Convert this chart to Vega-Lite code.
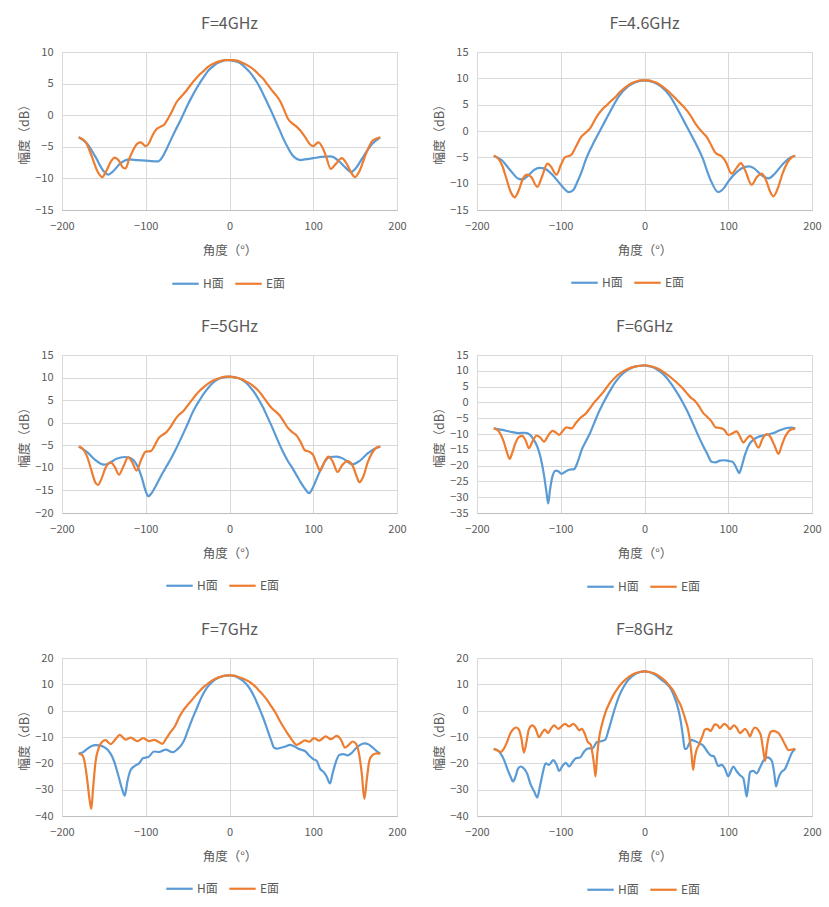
{
  "$schema": "https://vega.github.io/schema/vega-lite/v6.json",
  "background": "white",
  "padding": {"left": 18, "top": 15, "right": 5, "bottom": 5},
  "config": {
    "font": "Noto Sans CJK SC",
    "view": {"stroke": "#d9d9d9", "strokeWidth": 1},
    "axis": {"grid": true, "gridColor": "#d9d9d9", "domain": false, "ticks": false, "labelColor": "#595959", "labelFontSize": 11, "labelFlush": false, "titleColor": "#595959", "titleFontSize": 12.5, "titleFontWeight": "normal"},
    "axisX": {"labelPadding": 10, "titlePadding": 13, "domain": true, "domainColor": "#bfbfbf"},
    "axisY": {"labelPadding": 9, "titlePadding": 3},
    "title": {"fontSize": 16, "fontWeight": "normal", "color": "#595959", "offset": 14},
    "legend": {"orient": "none", "direction": "horizontal", "symbolType": "stroke", "symbolSize": 700, "symbolStrokeWidth": 2.5, "labelFontSize": 12, "labelColor": "#595959", "columnPadding": 6, "labelOffset": 3},
    "line": {"strokeWidth": 2.2, "interpolate": "monotone"}
  },
  "datasets": {
    "f4": [
      {"s":"H面","a":-180,"v":-3.5},{"s":"H面","a":-170,"v":-4.5},{"s":"H面","a":-160,"v":-6.6},{"s":"H面","a":-150,"v":-8.9},{"s":"H面","a":-145,"v":-9.4},{"s":"H面","a":-140,"v":-9.0},{"s":"H面","a":-130,"v":-7.6},{"s":"H面","a":-120,"v":-7.0},{"s":"H面","a":-110,"v":-7.1},{"s":"H面","a":-100,"v":-7.2},{"s":"H面","a":-90,"v":-7.3},{"s":"H面","a":-85,"v":-7.3},{"s":"H面","a":-80,"v":-6.6},{"s":"H面","a":-75,"v":-5.3},{"s":"H面","a":-70,"v":-3.9},{"s":"H面","a":-65,"v":-2.5},{"s":"H面","a":-60,"v":-1.2},{"s":"H面","a":-55,"v":0.2},{"s":"H面","a":-50,"v":1.6},{"s":"H面","a":-45,"v":2.9},{"s":"H面","a":-40,"v":4.1},{"s":"H面","a":-35,"v":5.2},{"s":"H面","a":-30,"v":6.2},{"s":"H面","a":-25,"v":7.1},{"s":"H面","a":-20,"v":7.7},{"s":"H面","a":-15,"v":8.2},{"s":"H面","a":-10,"v":8.5},{"s":"H面","a":-5,"v":8.7},{"s":"H面","a":0,"v":8.7},{"s":"H面","a":5,"v":8.6},{"s":"H面","a":10,"v":8.4},{"s":"H面","a":15,"v":8.0},{"s":"H面","a":20,"v":7.4},{"s":"H面","a":25,"v":6.7},{"s":"H面","a":30,"v":5.8},{"s":"H面","a":35,"v":4.7},{"s":"H面","a":40,"v":3.4},{"s":"H面","a":45,"v":2.0},{"s":"H面","a":50,"v":0.6},{"s":"H面","a":55,"v":-0.9},{"s":"H面","a":60,"v":-2.4},{"s":"H面","a":65,"v":-3.9},{"s":"H面","a":70,"v":-5.2},{"s":"H面","a":75,"v":-6.3},{"s":"H面","a":80,"v":-6.9},{"s":"H面","a":85,"v":-7.1},{"s":"H面","a":90,"v":-7.0},{"s":"H面","a":100,"v":-6.8},{"s":"H面","a":110,"v":-6.6},{"s":"H面","a":120,"v":-6.5},{"s":"H面","a":125,"v":-6.7},{"s":"H面","a":130,"v":-7.2},{"s":"H面","a":140,"v":-8.5},{"s":"H面","a":145,"v":-9.0},{"s":"H面","a":150,"v":-8.5},{"s":"H面","a":160,"v":-6.5},{"s":"H面","a":170,"v":-4.6},{"s":"H面","a":180,"v":-3.5},
      {"s":"E面","a":-180,"v":-3.5},{"s":"E面","a":-172,"v":-4.2},{"s":"E面","a":-165,"v":-6.3},{"s":"E面","a":-158,"v":-8.8},{"s":"E面","a":-152,"v":-9.8},{"s":"E面","a":-147,"v":-8.8},{"s":"E面","a":-141,"v":-7.2},{"s":"E面","a":-137,"v":-6.7},{"s":"E面","a":-132,"v":-7.2},{"s":"E面","a":-127,"v":-8.3},{"s":"E面","a":-124,"v":-8.4},{"s":"E面","a":-120,"v":-7.0},{"s":"E面","a":-115,"v":-5.5},{"s":"E面","a":-110,"v":-4.5},{"s":"E面","a":-106,"v":-4.3},{"s":"E面","a":-100,"v":-4.9},{"s":"E面","a":-96,"v":-4.4},{"s":"E面","a":-92,"v":-3.2},{"s":"E面","a":-87,"v":-2.2},{"s":"E面","a":-82,"v":-1.8},{"s":"E面","a":-78,"v":-1.5},{"s":"E面","a":-72,"v":-0.2},{"s":"E面","a":-68,"v":0.8},{"s":"E面","a":-64,"v":1.9},{"s":"E面","a":-60,"v":2.6},{"s":"E面","a":-56,"v":3.2},{"s":"E面","a":-52,"v":3.8},{"s":"E面","a":-48,"v":4.5},{"s":"E面","a":-44,"v":5.2},{"s":"E面","a":-40,"v":5.8},{"s":"E面","a":-36,"v":6.4},{"s":"E面","a":-30,"v":7.1},{"s":"E面","a":-26,"v":7.6},{"s":"E面","a":-20,"v":8.1},{"s":"E面","a":-15,"v":8.4},{"s":"E面","a":-10,"v":8.6},{"s":"E面","a":-5,"v":8.7},{"s":"E面","a":0,"v":8.7},{"s":"E面","a":5,"v":8.7},{"s":"E面","a":10,"v":8.6},{"s":"E面","a":15,"v":8.3},{"s":"E面","a":20,"v":8.0},{"s":"E面","a":25,"v":7.6},{"s":"E面","a":30,"v":7.1},{"s":"E面","a":36,"v":6.3},{"s":"E面","a":40,"v":5.8},{"s":"E面","a":44,"v":5.1},{"s":"E面","a":48,"v":4.4},{"s":"E面","a":52,"v":3.7},{"s":"E面","a":56,"v":3.1},{"s":"E面","a":61,"v":2.1},{"s":"E面","a":65,"v":0.9},{"s":"E面","a":70,"v":-0.6},{"s":"E面","a":75,"v":-1.3},{"s":"E面","a":80,"v":-1.8},{"s":"E面","a":85,"v":-2.5},{"s":"E面","a":90,"v":-3.4},{"s":"E面","a":96,"v":-4.6},{"s":"E面","a":100,"v":-4.9},{"s":"E面","a":106,"v":-4.3},{"s":"E面","a":111,"v":-5.1},{"s":"E面","a":115,"v":-6.4},{"s":"E面","a":121,"v":-8.5},{"s":"E面","a":127,"v":-7.7},{"s":"E面","a":134,"v":-6.8},{"s":"E面","a":140,"v":-7.7},{"s":"E面","a":145,"v":-9.0},{"s":"E面","a":150,"v":-9.8},{"s":"E面","a":155,"v":-8.9},{"s":"E面","a":163,"v":-6.1},{"s":"E面","a":171,"v":-4.0},{"s":"E面","a":180,"v":-3.5}
    ],
    "f46": [
      {"s":"H面","a":-180,"v":-4.7},{"s":"H面","a":-170,"v":-5.6},{"s":"H面","a":-160,"v":-7.5},{"s":"H面","a":-150,"v":-9.1},{"s":"H面","a":-145,"v":-9.2},{"s":"H面","a":-140,"v":-8.6},{"s":"H面","a":-130,"v":-7.2},{"s":"H面","a":-125,"v":-7.0},{"s":"H面","a":-120,"v":-7.1},{"s":"H面","a":-110,"v":-8.3},{"s":"H面","a":-100,"v":-10.2},{"s":"H面","a":-90,"v":-11.6},{"s":"H面","a":-85,"v":-11.2},{"s":"H面","a":-80,"v":-9.6},{"s":"H面","a":-75,"v":-7.7},{"s":"H面","a":-70,"v":-5.4},{"s":"H面","a":-60,"v":-2.0},{"s":"H面","a":-50,"v":1.0},{"s":"H面","a":-40,"v":4.0},{"s":"H面","a":-30,"v":6.7},{"s":"H面","a":-20,"v":8.4},{"s":"H面","a":-10,"v":9.3},{"s":"H面","a":0,"v":9.6},{"s":"H面","a":10,"v":9.3},{"s":"H面","a":20,"v":8.4},{"s":"H面","a":30,"v":6.7},{"s":"H面","a":40,"v":4.0},{"s":"H面","a":50,"v":1.0},{"s":"H面","a":60,"v":-2.0},{"s":"H面","a":70,"v":-5.4},{"s":"H面","a":75,"v":-7.7},{"s":"H面","a":80,"v":-9.7},{"s":"H面","a":88,"v":-11.6},{"s":"H面","a":95,"v":-10.8},{"s":"H面","a":100,"v":-9.6},{"s":"H面","a":110,"v":-7.8},{"s":"H面","a":120,"v":-6.8},{"s":"H面","a":125,"v":-6.7},{"s":"H面","a":130,"v":-7.0},{"s":"H面","a":140,"v":-8.4},{"s":"H面","a":148,"v":-9.0},{"s":"H面","a":155,"v":-8.2},{"s":"H面","a":165,"v":-6.3},{"s":"H面","a":175,"v":-5.0},{"s":"H面","a":180,"v":-4.7},
      {"s":"E面","a":-180,"v":-4.7},{"s":"E面","a":-175,"v":-5.2},{"s":"E面","a":-170,"v":-6.5},{"s":"E面","a":-165,"v":-9.0},{"s":"E面","a":-160,"v":-11.5},{"s":"E面","a":-155,"v":-12.6},{"s":"E面","a":-150,"v":-11.2},{"s":"E面","a":-145,"v":-9.0},{"s":"E面","a":-140,"v":-8.3},{"s":"E面","a":-135,"v":-8.8},{"s":"E面","a":-128,"v":-10.6},{"s":"E面","a":-122,"v":-8.5},{"s":"E面","a":-116,"v":-6.2},{"s":"E面","a":-112,"v":-6.7},{"s":"E面","a":-105,"v":-8.3},{"s":"E面","a":-100,"v":-6.5},{"s":"E面","a":-95,"v":-5.0},{"s":"E面","a":-88,"v":-4.6},{"s":"E面","a":-82,"v":-3.0},{"s":"E面","a":-76,"v":-1.2},{"s":"E面","a":-70,"v":-0.3},{"s":"E面","a":-65,"v":0.5},{"s":"E面","a":-60,"v":1.9},{"s":"E面","a":-55,"v":3.2},{"s":"E面","a":-50,"v":4.2},{"s":"E面","a":-45,"v":4.9},{"s":"E面","a":-40,"v":5.7},{"s":"E面","a":-35,"v":6.4},{"s":"E面","a":-30,"v":7.3},{"s":"E面","a":-25,"v":8.0},{"s":"E面","a":-20,"v":8.6},{"s":"E面","a":-15,"v":9.1},{"s":"E面","a":-10,"v":9.4},{"s":"E面","a":-5,"v":9.6},{"s":"E面","a":0,"v":9.6},{"s":"E面","a":5,"v":9.6},{"s":"E面","a":10,"v":9.4},{"s":"E面","a":15,"v":9.1},{"s":"E面","a":20,"v":8.6},{"s":"E面","a":25,"v":8.0},{"s":"E面","a":30,"v":7.3},{"s":"E面","a":35,"v":6.5},{"s":"E面","a":40,"v":5.7},{"s":"E面","a":45,"v":4.9},{"s":"E面","a":50,"v":4.0},{"s":"E面","a":55,"v":2.9},{"s":"E面","a":60,"v":1.6},{"s":"E面","a":65,"v":0.5},{"s":"E面","a":70,"v":-0.4},{"s":"E面","a":75,"v":-1.3},{"s":"E面","a":80,"v":-2.8},{"s":"E面","a":85,"v":-4.2},{"s":"E面","a":92,"v":-4.8},{"s":"E面","a":97,"v":-5.8},{"s":"E面","a":104,"v":-8.1},{"s":"E面","a":110,"v":-7.0},{"s":"E面","a":115,"v":-6.1},{"s":"E面","a":120,"v":-7.4},{"s":"E面","a":128,"v":-10.2},{"s":"E面","a":134,"v":-8.8},{"s":"E面","a":140,"v":-8.1},{"s":"E面","a":145,"v":-9.3},{"s":"E面","a":150,"v":-11.5},{"s":"E面","a":154,"v":-12.4},{"s":"E面","a":160,"v":-10.5},{"s":"E面","a":165,"v":-8.0},{"s":"E面","a":170,"v":-6.2},{"s":"E面","a":175,"v":-5.1},{"s":"E面","a":180,"v":-4.7}
    ],
    "f5": [
      {"s":"H面","a":-180,"v":-5.3},{"s":"H面","a":-170,"v":-6.5},{"s":"H面","a":-160,"v":-8.3},{"s":"H面","a":-150,"v":-9.3},{"s":"H面","a":-145,"v":-9.1},{"s":"H面","a":-135,"v":-8.0},{"s":"H面","a":-125,"v":-7.6},{"s":"H面","a":-120,"v":-7.7},{"s":"H面","a":-110,"v":-9.6},{"s":"H面","a":-105,"v":-12.0},{"s":"H面","a":-100,"v":-15.2},{"s":"H面","a":-97,"v":-16.3},{"s":"H面","a":-93,"v":-15.6},{"s":"H面","a":-88,"v":-14.0},{"s":"H面","a":-80,"v":-11.2},{"s":"H面","a":-75,"v":-9.6},{"s":"H面","a":-70,"v":-8.0},{"s":"H面","a":-65,"v":-6.2},{"s":"H面","a":-60,"v":-4.3},{"s":"H面","a":-55,"v":-2.3},{"s":"H面","a":-50,"v":-0.3},{"s":"H面","a":-45,"v":1.9},{"s":"H面","a":-40,"v":3.7},{"s":"H面","a":-35,"v":5.2},{"s":"H面","a":-30,"v":6.6},{"s":"H面","a":-25,"v":7.8},{"s":"H面","a":-20,"v":8.8},{"s":"H面","a":-15,"v":9.5},{"s":"H面","a":-10,"v":9.9},{"s":"H面","a":-5,"v":10.1},{"s":"H面","a":0,"v":10.2},{"s":"H面","a":5,"v":10.1},{"s":"H面","a":10,"v":9.9},{"s":"H面","a":15,"v":9.5},{"s":"H面","a":20,"v":8.8},{"s":"H面","a":25,"v":7.8},{"s":"H面","a":30,"v":6.6},{"s":"H面","a":35,"v":5.1},{"s":"H面","a":40,"v":3.4},{"s":"H面","a":45,"v":1.4},{"s":"H面","a":50,"v":-0.6},{"s":"H面","a":55,"v":-2.8},{"s":"H面","a":60,"v":-4.9},{"s":"H面","a":65,"v":-6.9},{"s":"H面","a":70,"v":-8.6},{"s":"H面","a":75,"v":-10.0},{"s":"H面","a":80,"v":-11.6},{"s":"H面","a":85,"v":-13.2},{"s":"H面","a":90,"v":-14.6},{"s":"H面","a":95,"v":-15.6},{"s":"H面","a":100,"v":-14.2},{"s":"H面","a":105,"v":-12.0},{"s":"H面","a":110,"v":-10.0},{"s":"H面","a":115,"v":-8.3},{"s":"H面","a":120,"v":-7.6},{"s":"H面","a":128,"v":-7.5},{"s":"H面","a":135,"v":-7.9},{"s":"H面","a":140,"v":-8.5},{"s":"H面","a":147,"v":-9.2},{"s":"H面","a":155,"v":-8.5},{"s":"H面","a":165,"v":-6.8},{"s":"H面","a":175,"v":-5.6},{"s":"H面","a":180,"v":-5.3},
      {"s":"E面","a":-180,"v":-5.3},{"s":"E面","a":-175,"v":-5.8},{"s":"E面","a":-170,"v":-7.5},{"s":"E面","a":-165,"v":-10.5},{"s":"E面","a":-160,"v":-13.3},{"s":"E面","a":-157,"v":-13.8},{"s":"E面","a":-153,"v":-12.5},{"s":"E面","a":-148,"v":-10.0},{"s":"E面","a":-142,"v":-8.8},{"s":"E面","a":-137,"v":-9.8},{"s":"E面","a":-132,"v":-11.5},{"s":"E面","a":-127,"v":-9.8},{"s":"E面","a":-121,"v":-7.7},{"s":"E面","a":-116,"v":-8.8},{"s":"E面","a":-111,"v":-10.6},{"s":"E面","a":-105,"v":-8.0},{"s":"E面","a":-100,"v":-6.4},{"s":"E面","a":-94,"v":-6.3},{"s":"E面","a":-90,"v":-5.3},{"s":"E面","a":-85,"v":-3.5},{"s":"E面","a":-80,"v":-2.7},{"s":"E面","a":-76,"v":-2.2},{"s":"E面","a":-70,"v":-0.8},{"s":"E面","a":-65,"v":0.7},{"s":"E面","a":-60,"v":1.8},{"s":"E面","a":-55,"v":2.6},{"s":"E面","a":-50,"v":3.8},{"s":"E面","a":-45,"v":5.0},{"s":"E面","a":-40,"v":6.2},{"s":"E面","a":-35,"v":7.2},{"s":"E面","a":-30,"v":8.0},{"s":"E面","a":-25,"v":8.7},{"s":"E面","a":-20,"v":9.3},{"s":"E面","a":-15,"v":9.7},{"s":"E面","a":-10,"v":10.0},{"s":"E面","a":-5,"v":10.2},{"s":"E面","a":0,"v":10.2},{"s":"E面","a":5,"v":10.1},{"s":"E面","a":10,"v":9.9},{"s":"E面","a":15,"v":9.6},{"s":"E面","a":20,"v":9.1},{"s":"E面","a":25,"v":8.6},{"s":"E面","a":30,"v":7.9},{"s":"E面","a":35,"v":7.0},{"s":"E面","a":40,"v":5.8},{"s":"E面","a":45,"v":4.5},{"s":"E面","a":50,"v":3.3},{"s":"E面","a":55,"v":2.5},{"s":"E面","a":60,"v":1.6},{"s":"E面","a":65,"v":0.2},{"s":"E面","a":70,"v":-1.2},{"s":"E面","a":75,"v":-2.1},{"s":"E面","a":80,"v":-2.8},{"s":"E面","a":85,"v":-4.3},{"s":"E面","a":90,"v":-6.1},{"s":"E面","a":95,"v":-6.4},{"s":"E面","a":100,"v":-7.2},{"s":"E面","a":105,"v":-9.5},{"s":"E面","a":108,"v":-10.6},{"s":"E面","a":113,"v":-8.8},{"s":"E面","a":118,"v":-7.5},{"s":"E面","a":123,"v":-8.5},{"s":"E面","a":129,"v":-10.9},{"s":"E面","a":135,"v":-9.3},{"s":"E面","a":141,"v":-8.5},{"s":"E面","a":147,"v":-9.5},{"s":"E面","a":152,"v":-12.0},{"s":"E面","a":155,"v":-13.2},{"s":"E面","a":160,"v":-11.8},{"s":"E面","a":165,"v":-8.8},{"s":"E面","a":170,"v":-6.8},{"s":"E面","a":175,"v":-5.6},{"s":"E面","a":180,"v":-5.3}
    ],
    "f6": [
      {"s":"H面","a":-180,"v":-8.2},{"s":"H面","a":-170,"v":-8.7},{"s":"H面","a":-160,"v":-9.3},{"s":"H面","a":-150,"v":-9.7},{"s":"H面","a":-143,"v":-9.6},{"s":"H面","a":-138,"v":-10.0},{"s":"H面","a":-133,"v":-11.5},{"s":"H面","a":-128,"v":-14.0},{"s":"H面","a":-124,"v":-17.5},{"s":"H面","a":-120,"v":-23.0},{"s":"H面","a":-117,"v":-28.5},{"s":"H面","a":-115,"v":-32.0},{"s":"H面","a":-113,"v":-28.0},{"s":"H面","a":-110,"v":-23.5},{"s":"H面","a":-106,"v":-21.6},{"s":"H面","a":-103,"v":-21.8},{"s":"H面","a":-99,"v":-22.6},{"s":"H面","a":-95,"v":-22.0},{"s":"H面","a":-90,"v":-21.3},{"s":"H面","a":-84,"v":-21.1},{"s":"H面","a":-80,"v":-19.0},{"s":"H面","a":-75,"v":-15.0},{"s":"H面","a":-70,"v":-12.3},{"s":"H面","a":-65,"v":-9.7},{"s":"H面","a":-60,"v":-6.5},{"s":"H面","a":-55,"v":-3.3},{"s":"H面","a":-50,"v":-0.6},{"s":"H面","a":-45,"v":1.9},{"s":"H面","a":-40,"v":4.2},{"s":"H面","a":-35,"v":6.3},{"s":"H面","a":-30,"v":8.0},{"s":"H面","a":-25,"v":9.3},{"s":"H面","a":-20,"v":10.3},{"s":"H面","a":-15,"v":11.0},{"s":"H面","a":-10,"v":11.4},{"s":"H面","a":-5,"v":11.6},{"s":"H面","a":0,"v":11.7},{"s":"H面","a":5,"v":11.5},{"s":"H面","a":10,"v":11.1},{"s":"H面","a":15,"v":10.4},{"s":"H面","a":20,"v":9.5},{"s":"H面","a":25,"v":8.2},{"s":"H面","a":30,"v":6.6},{"s":"H面","a":35,"v":4.7},{"s":"H面","a":40,"v":2.6},{"s":"H面","a":45,"v":0.3},{"s":"H面","a":50,"v":-2.2},{"s":"H面","a":55,"v":-5.0},{"s":"H面","a":60,"v":-8.0},{"s":"H面","a":65,"v":-11.0},{"s":"H面","a":70,"v":-13.8},{"s":"H面","a":75,"v":-16.3},{"s":"H面","a":80,"v":-18.8},{"s":"H面","a":85,"v":-19.0},{"s":"H面","a":90,"v":-18.4},{"s":"H面","a":95,"v":-18.3},{"s":"H面","a":100,"v":-18.5},{"s":"H面","a":105,"v":-18.8},{"s":"H面","a":108,"v":-19.8},{"s":"H面","a":111,"v":-21.5},{"s":"H面","a":113,"v":-22.4},{"s":"H面","a":116,"v":-20.3},{"s":"H面","a":120,"v":-16.5},{"s":"H面","a":125,"v":-13.3},{"s":"H面","a":130,"v":-11.8},{"s":"H面","a":135,"v":-11.0},{"s":"H面","a":140,"v":-10.6},{"s":"H面","a":150,"v":-10.0},{"s":"H面","a":155,"v":-9.6},{"s":"H面","a":160,"v":-9.0},{"s":"H面","a":165,"v":-8.5},{"s":"H面","a":170,"v":-8.1},{"s":"H面","a":175,"v":-8.0},{"s":"H面","a":180,"v":-8.2},
      {"s":"E面","a":-180,"v":-8.2},{"s":"E面","a":-176,"v":-8.6},{"s":"E面","a":-172,"v":-10.0},{"s":"E面","a":-168,"v":-12.5},{"s":"E面","a":-164,"v":-16.0},{"s":"E面","a":-161,"v":-17.9},{"s":"E面","a":-158,"v":-16.0},{"s":"E面","a":-154,"v":-12.8},{"s":"E面","a":-150,"v":-11.0},{"s":"E面","a":-146,"v":-10.6},{"s":"E面","a":-142,"v":-12.0},{"s":"E面","a":-138,"v":-14.5},{"s":"E面","a":-134,"v":-12.5},{"s":"E面","a":-129,"v":-10.5},{"s":"E面","a":-125,"v":-11.0},{"s":"E面","a":-120,"v":-12.4},{"s":"E面","a":-115,"v":-10.5},{"s":"E面","a":-110,"v":-9.0},{"s":"E面","a":-106,"v":-9.5},{"s":"E面","a":-102,"v":-10.3},{"s":"E面","a":-97,"v":-8.8},{"s":"E面","a":-93,"v":-7.9},{"s":"E面","a":-87,"v":-8.2},{"s":"E面","a":-82,"v":-6.5},{"s":"E面","a":-77,"v":-5.0},{"s":"E面","a":-70,"v":-3.5},{"s":"E面","a":-65,"v":-1.8},{"s":"E面","a":-60,"v":0.0},{"s":"E面","a":-55,"v":1.5},{"s":"E面","a":-50,"v":3.0},{"s":"E面","a":-45,"v":4.8},{"s":"E面","a":-40,"v":6.5},{"s":"E面","a":-35,"v":7.9},{"s":"E面","a":-30,"v":9.0},{"s":"E面","a":-25,"v":9.9},{"s":"E面","a":-20,"v":10.6},{"s":"E面","a":-15,"v":11.1},{"s":"E面","a":-10,"v":11.4},{"s":"E面","a":-5,"v":11.6},{"s":"E面","a":0,"v":11.7},{"s":"E面","a":5,"v":11.6},{"s":"E面","a":10,"v":11.3},{"s":"E面","a":15,"v":10.8},{"s":"E面","a":20,"v":10.1},{"s":"E面","a":25,"v":9.2},{"s":"E面","a":30,"v":8.2},{"s":"E面","a":35,"v":7.1},{"s":"E面","a":40,"v":5.9},{"s":"E面","a":45,"v":4.6},{"s":"E面","a":50,"v":3.1},{"s":"E面","a":55,"v":1.6},{"s":"E面","a":60,"v":0.5},{"s":"E面","a":65,"v":-1.2},{"s":"E面","a":70,"v":-3.3},{"s":"E面","a":75,"v":-4.6},{"s":"E面","a":80,"v":-6.0},{"s":"E面","a":85,"v":-7.9},{"s":"E面","a":90,"v":-8.1},{"s":"E面","a":95,"v":-8.6},{"s":"E面","a":100,"v":-10.3},{"s":"E面","a":105,"v":-9.8},{"s":"E面","a":110,"v":-9.2},{"s":"E面","a":114,"v":-10.8},{"s":"E面","a":118,"v":-12.7},{"s":"E面","a":122,"v":-11.5},{"s":"E面","a":126,"v":-10.6},{"s":"E面","a":131,"v":-12.0},{"s":"E面","a":136,"v":-14.3},{"s":"E面","a":141,"v":-11.5},{"s":"E面","a":146,"v":-10.0},{"s":"E面","a":150,"v":-10.8},{"s":"E面","a":155,"v":-13.5},{"s":"E面","a":160,"v":-16.3},{"s":"E面","a":164,"v":-13.5},{"s":"E面","a":168,"v":-10.8},{"s":"E面","a":172,"v":-9.2},{"s":"E面","a":176,"v":-8.5},{"s":"E面","a":180,"v":-8.2}
    ],
    "f7": [
      {"s":"H面","a":-180,"v":-16.3},{"s":"H面","a":-175,"v":-15.8},{"s":"H面","a":-170,"v":-14.5},{"s":"H面","a":-165,"v":-13.5},{"s":"H面","a":-160,"v":-13.1},{"s":"H面","a":-155,"v":-13.2},{"s":"H面","a":-150,"v":-13.8},{"s":"H面","a":-145,"v":-15.0},{"s":"H面","a":-140,"v":-17.5},{"s":"H面","a":-136,"v":-21.0},{"s":"H面","a":-132,"v":-25.5},{"s":"H面","a":-128,"v":-30.0},{"s":"H面","a":-125,"v":-32.3},{"s":"H面","a":-122,"v":-27.0},{"s":"H面","a":-118,"v":-22.5},{"s":"H面","a":-113,"v":-21.0},{"s":"H面","a":-108,"v":-20.0},{"s":"H面","a":-103,"v":-18.0},{"s":"H面","a":-97,"v":-17.6},{"s":"H面","a":-90,"v":-15.5},{"s":"H面","a":-84,"v":-15.7},{"s":"H面","a":-76,"v":-14.8},{"s":"H面","a":-68,"v":-15.8},{"s":"H面","a":-62,"v":-14.6},{"s":"H面","a":-58,"v":-13.3},{"s":"H面","a":-54,"v":-11.2},{"s":"H面","a":-50,"v":-7.8},{"s":"H面","a":-45,"v":-3.6},{"s":"H面","a":-40,"v":0.2},{"s":"H面","a":-35,"v":4.0},{"s":"H面","a":-30,"v":7.2},{"s":"H面","a":-25,"v":9.5},{"s":"H面","a":-20,"v":11.1},{"s":"H面","a":-15,"v":12.2},{"s":"H面","a":-10,"v":12.9},{"s":"H面","a":-5,"v":13.3},{"s":"H面","a":0,"v":13.4},{"s":"H面","a":5,"v":13.2},{"s":"H面","a":10,"v":12.6},{"s":"H面","a":15,"v":11.6},{"s":"H面","a":20,"v":10.1},{"s":"H面","a":25,"v":8.0},{"s":"H面","a":30,"v":5.0},{"s":"H面","a":35,"v":1.4},{"s":"H面","a":40,"v":-2.5},{"s":"H面","a":45,"v":-7.0},{"s":"H面","a":50,"v":-11.5},{"s":"H面","a":53,"v":-14.0},{"s":"H面","a":57,"v":-14.4},{"s":"H面","a":62,"v":-14.0},{"s":"H面","a":67,"v":-13.6},{"s":"H面","a":72,"v":-13.0},{"s":"H面","a":77,"v":-13.5},{"s":"H面","a":83,"v":-14.6},{"s":"H面","a":90,"v":-15.3},{"s":"H面","a":95,"v":-17.0},{"s":"H面","a":100,"v":-18.4},{"s":"H面","a":104,"v":-19.0},{"s":"H面","a":108,"v":-22.0},{"s":"H面","a":113,"v":-23.5},{"s":"H面","a":116,"v":-25.0},{"s":"H面","a":120,"v":-27.6},{"s":"H面","a":123,"v":-24.0},{"s":"H面","a":126,"v":-20.5},{"s":"H面","a":131,"v":-16.8},{"s":"H面","a":136,"v":-16.5},{"s":"H面","a":141,"v":-17.0},{"s":"H面","a":146,"v":-16.0},{"s":"H面","a":151,"v":-14.3},{"s":"H面","a":156,"v":-13.0},{"s":"H面","a":161,"v":-12.4},{"s":"H面","a":166,"v":-12.8},{"s":"H面","a":171,"v":-14.0},{"s":"H面","a":176,"v":-15.5},{"s":"H面","a":180,"v":-16.3},
      {"s":"E面","a":-180,"v":-16.3},{"s":"E面","a":-176,"v":-16.8},{"s":"E面","a":-173,"v":-19.5},{"s":"E面","a":-170,"v":-26.0},{"s":"E面","a":-167,"v":-34.0},{"s":"E面","a":-165,"v":-37.3},{"s":"E面","a":-163,"v":-30.0},{"s":"E面","a":-160,"v":-19.5},{"s":"E面","a":-156,"v":-14.0},{"s":"E面","a":-152,"v":-11.8},{"s":"E面","a":-148,"v":-11.2},{"s":"E面","a":-142,"v":-12.7},{"s":"E面","a":-136,"v":-10.8},{"s":"E面","a":-131,"v":-9.2},{"s":"E面","a":-124,"v":-11.0},{"s":"E面","a":-118,"v":-10.2},{"s":"E面","a":-110,"v":-11.6},{"s":"E面","a":-103,"v":-10.4},{"s":"E面","a":-96,"v":-11.6},{"s":"E面","a":-90,"v":-11.1},{"s":"E面","a":-85,"v":-11.8},{"s":"E面","a":-80,"v":-12.6},{"s":"E面","a":-76,"v":-10.8},{"s":"E面","a":-70,"v":-8.0},{"s":"E面","a":-65,"v":-5.8},{"s":"E面","a":-60,"v":-2.4},{"s":"E面","a":-55,"v":0.2},{"s":"E面","a":-50,"v":2.2},{"s":"E面","a":-45,"v":4.0},{"s":"E面","a":-40,"v":5.9},{"s":"E面","a":-35,"v":7.7},{"s":"E面","a":-30,"v":9.2},{"s":"E面","a":-25,"v":10.5},{"s":"E面","a":-20,"v":11.6},{"s":"E面","a":-15,"v":12.4},{"s":"E面","a":-10,"v":12.9},{"s":"E面","a":-5,"v":13.3},{"s":"E面","a":0,"v":13.4},{"s":"E面","a":5,"v":13.3},{"s":"E面","a":10,"v":12.9},{"s":"E面","a":15,"v":12.3},{"s":"E面","a":20,"v":11.6},{"s":"E面","a":25,"v":10.7},{"s":"E面","a":30,"v":9.4},{"s":"E面","a":35,"v":7.7},{"s":"E面","a":40,"v":6.0},{"s":"E面","a":45,"v":4.0},{"s":"E面","a":50,"v":1.6},{"s":"E面","a":55,"v":-0.8},{"s":"E面","a":60,"v":-3.8},{"s":"E面","a":65,"v":-6.5},{"s":"E面","a":70,"v":-9.0},{"s":"E面","a":75,"v":-11.3},{"s":"E面","a":80,"v":-13.0},{"s":"E面","a":85,"v":-12.2},{"s":"E面","a":90,"v":-11.3},{"s":"E面","a":95,"v":-11.8},{"s":"E面","a":101,"v":-10.4},{"s":"E面","a":107,"v":-11.4},{"s":"E面","a":115,"v":-9.8},{"s":"E面","a":121,"v":-10.8},{"s":"E面","a":128,"v":-9.6},{"s":"E面","a":133,"v":-11.0},{"s":"E面","a":138,"v":-14.0},{"s":"E面","a":143,"v":-12.8},{"s":"E面","a":147,"v":-11.7},{"s":"E面","a":151,"v":-12.5},{"s":"E面","a":155,"v":-17.0},{"s":"E面","a":158,"v":-24.0},{"s":"E面","a":161,"v":-33.5},{"s":"E面","a":164,"v":-26.0},{"s":"E面","a":167,"v":-19.0},{"s":"E面","a":171,"v":-16.8},{"s":"E面","a":176,"v":-16.2},{"s":"E面","a":180,"v":-16.3}
    ],
    "f8": [
      {"s":"H面","a":-180,"v":-14.5},{"s":"H面","a":-176,"v":-15.0},{"s":"H面","a":-172,"v":-16.2},{"s":"H面","a":-168,"v":-18.5},{"s":"H面","a":-164,"v":-21.9},{"s":"H面","a":-160,"v":-25.0},{"s":"H面","a":-157,"v":-26.9},{"s":"H面","a":-154,"v":-25.0},{"s":"H面","a":-151,"v":-22.0},{"s":"H面","a":-148,"v":-21.2},{"s":"H面","a":-144,"v":-22.0},{"s":"H面","a":-140,"v":-24.0},{"s":"H面","a":-136,"v":-28.0},{"s":"H面","a":-132,"v":-30.5},{"s":"H面","a":-128,"v":-33.0},{"s":"H面","a":-125,"v":-29.0},{"s":"H面","a":-122,"v":-24.4},{"s":"H面","a":-118,"v":-20.0},{"s":"H面","a":-114,"v":-20.6},{"s":"H面","a":-109,"v":-18.8},{"s":"H面","a":-105,"v":-20.5},{"s":"H面","a":-102,"v":-22.9},{"s":"H面","a":-98,"v":-21.0},{"s":"H面","a":-94,"v":-19.8},{"s":"H面","a":-90,"v":-21.2},{"s":"H面","a":-86,"v":-19.5},{"s":"H面","a":-82,"v":-18.1},{"s":"H面","a":-77,"v":-17.8},{"s":"H面","a":-72,"v":-15.5},{"s":"H面","a":-68,"v":-14.4},{"s":"H面","a":-62,"v":-14.3},{"s":"H面","a":-57,"v":-12.0},{"s":"H面","a":-51,"v":-11.5},{"s":"H面","a":-47,"v":-11.1},{"s":"H面","a":-43,"v":-7.5},{"s":"H面","a":-40,"v":-4.2},{"s":"H面","a":-35,"v":1.2},{"s":"H面","a":-30,"v":5.8},{"s":"H面","a":-25,"v":9.0},{"s":"H面","a":-20,"v":11.4},{"s":"H面","a":-15,"v":13.0},{"s":"H面","a":-10,"v":14.1},{"s":"H面","a":-5,"v":14.7},{"s":"H面","a":0,"v":14.9},{"s":"H面","a":5,"v":14.7},{"s":"H面","a":10,"v":14.1},{"s":"H面","a":15,"v":13.1},{"s":"H面","a":20,"v":11.8},{"s":"H面","a":25,"v":10.6},{"s":"H面","a":30,"v":9.0},{"s":"H面","a":35,"v":5.8},{"s":"H面","a":40,"v":1.0},{"s":"H面","a":43,"v":-3.5},{"s":"H面","a":46,"v":-10.0},{"s":"H面","a":48,"v":-14.5},{"s":"H面","a":50,"v":-14.5},{"s":"H面","a":53,"v":-12.8},{"s":"H面","a":56,"v":-11.1},{"s":"H面","a":60,"v":-11.5},{"s":"H面","a":65,"v":-12.3},{"s":"H面","a":70,"v":-13.2},{"s":"H面","a":75,"v":-15.5},{"s":"H面","a":79,"v":-17.0},{"s":"H面","a":83,"v":-17.4},{"s":"H面","a":88,"v":-21.0},{"s":"H面","a":92,"v":-20.6},{"s":"H面","a":96,"v":-22.0},{"s":"H面","a":100,"v":-25.0},{"s":"H面","a":103,"v":-23.0},{"s":"H面","a":106,"v":-21.2},{"s":"H面","a":110,"v":-23.0},{"s":"H面","a":114,"v":-24.5},{"s":"H面","a":118,"v":-25.7},{"s":"H面","a":120,"v":-29.0},{"s":"H面","a":122,"v":-32.6},{"s":"H面","a":124,"v":-28.0},{"s":"H面","a":126,"v":-23.3},{"s":"H面","a":130,"v":-22.9},{"s":"H面","a":134,"v":-23.8},{"s":"H面","a":138,"v":-21.5},{"s":"H面","a":142,"v":-19.0},{"s":"H面","a":147,"v":-17.7},{"s":"H面","a":152,"v":-19.0},{"s":"H面","a":155,"v":-24.0},{"s":"H面","a":157,"v":-28.8},{"s":"H面","a":160,"v":-25.5},{"s":"H面","a":163,"v":-23.5},{"s":"H面","a":168,"v":-22.0},{"s":"H面","a":172,"v":-19.0},{"s":"H面","a":176,"v":-16.0},{"s":"H面","a":180,"v":-14.5},
      {"s":"E面","a":-180,"v":-14.5},{"s":"E面","a":-176,"v":-15.0},{"s":"E面","a":-172,"v":-15.7},{"s":"E面","a":-168,"v":-14.5},{"s":"E面","a":-164,"v":-11.8},{"s":"E面","a":-160,"v":-8.5},{"s":"E面","a":-156,"v":-6.8},{"s":"E面","a":-153,"v":-6.4},{"s":"E面","a":-150,"v":-7.2},{"s":"E面","a":-147,"v":-10.5},{"s":"E面","a":-144,"v":-15.9},{"s":"E面","a":-141,"v":-12.0},{"s":"E面","a":-138,"v":-7.0},{"s":"E面","a":-134,"v":-5.6},{"s":"E面","a":-130,"v":-6.9},{"s":"E面","a":-126,"v":-10.1},{"s":"E面","a":-122,"v":-8.2},{"s":"E面","a":-119,"v":-7.2},{"s":"E面","a":-115,"v":-8.5},{"s":"E面","a":-112,"v":-7.0},{"s":"E面","a":-108,"v":-5.6},{"s":"E面","a":-103,"v":-6.9},{"s":"E面","a":-99,"v":-6.0},{"s":"E面","a":-95,"v":-5.0},{"s":"E面","a":-90,"v":-6.0},{"s":"E面","a":-85,"v":-5.0},{"s":"E面","a":-81,"v":-6.2},{"s":"E面","a":-78,"v":-7.5},{"s":"E面","a":-75,"v":-6.9},{"s":"E面","a":-71,"v":-9.0},{"s":"E面","a":-68,"v":-11.7},{"s":"E面","a":-64,"v":-13.0},{"s":"E面","a":-62,"v":-16.5},{"s":"E面","a":-60,"v":-21.0},{"s":"E面","a":-58.5,"v":-25.0},{"s":"E面","a":-56.5,"v":-17.0},{"s":"E面","a":-54,"v":-10.0},{"s":"E面","a":-51,"v":-5.5},{"s":"E面","a":-47,"v":-1.0},{"s":"E面","a":-42,"v":2.8},{"s":"E面","a":-37,"v":6.0},{"s":"E面","a":-32,"v":8.5},{"s":"E面","a":-27,"v":10.5},{"s":"E面","a":-22,"v":12.0},{"s":"E面","a":-17,"v":13.2},{"s":"E面","a":-12,"v":14.1},{"s":"E面","a":-6,"v":14.7},{"s":"E面","a":0,"v":14.9},{"s":"E面","a":6,"v":14.7},{"s":"E面","a":12,"v":14.1},{"s":"E面","a":17,"v":13.2},{"s":"E面","a":23,"v":11.8},{"s":"E面","a":29,"v":9.8},{"s":"E面","a":35,"v":7.3},{"s":"E面","a":40,"v":4.0},{"s":"E面","a":43,"v":2.2},{"s":"E面","a":46,"v":-0.5},{"s":"E面","a":49,"v":-3.5},{"s":"E面","a":52,"v":-7.0},{"s":"E面","a":54,"v":-11.0},{"s":"E面","a":56,"v":-16.0},{"s":"E面","a":58,"v":-22.5},{"s":"E面","a":60,"v":-18.0},{"s":"E面","a":62,"v":-15.0},{"s":"E面","a":65,"v":-13.0},{"s":"E面","a":69,"v":-9.8},{"s":"E面","a":72,"v":-7.2},{"s":"E面","a":75,"v":-6.9},{"s":"E面","a":79,"v":-7.7},{"s":"E面","a":84,"v":-5.2},{"s":"E面","a":87,"v":-5.5},{"s":"E面","a":90,"v":-6.6},{"s":"E面","a":95,"v":-5.0},{"s":"E面","a":99,"v":-5.8},{"s":"E面","a":102,"v":-7.0},{"s":"E面","a":107,"v":-5.6},{"s":"E面","a":110,"v":-6.5},{"s":"E面","a":114,"v":-8.5},{"s":"E面","a":117,"v":-7.8},{"s":"E面","a":120,"v":-6.9},{"s":"E面","a":123,"v":-8.0},{"s":"E面","a":126,"v":-9.8},{"s":"E面","a":129,"v":-7.5},{"s":"E面","a":132,"v":-6.4},{"s":"E面","a":136,"v":-7.5},{"s":"E面","a":139,"v":-9.5},{"s":"E面","a":142,"v":-15.5},{"s":"E面","a":144,"v":-19.1},{"s":"E面","a":146,"v":-14.0},{"s":"E面","a":148,"v":-10.4},{"s":"E面","a":151,"v":-8.0},{"s":"E面","a":154,"v":-7.7},{"s":"E面","a":157,"v":-8.0},{"s":"E面","a":160,"v":-8.5},{"s":"E面","a":164,"v":-10.5},{"s":"E面","a":168,"v":-13.0},{"s":"E面","a":172,"v":-15.0},{"s":"E面","a":176,"v":-14.8},{"s":"E面","a":180,"v":-14.5}
    ]
  },
  "columns": 2,
  "spacing": {"row": 145, "column": 80},
  "bounds": "flush",
  "resolve": {"scale": {"x": "independent", "y": "independent", "color": "independent"}, "legend": {"color": "independent"}},
  "concat": [
    {
      "title": "F=4GHz", "width": 335, "height": 158,
      "data": {"name": "f4"},
      "mark": {"type": "line"},
      "encoding": {
        "x": {"field": "a", "type": "quantitative", "scale": {"domain": [-200, 200], "nice": false}, "axis": {"values": [-200, -100, 0, 100, 200], "title": "角度（°）"}},
        "y": {"field": "v", "type": "quantitative", "scale": {"domain": [-15, 10], "nice": false}, "axis": {"values": [-15, -10, -5, 0, 5, 10], "title": "幅度（dB）"}},
        "color": {"field": "s", "type": "nominal", "scale": {"domain": ["H面", "E面"], "range": ["#5B9BD5", "#ED7D31"]}, "legend": {"title": null, "legendX": 109, "legendY": 217}}
      }
    },
    {
      "title": "F=4.6GHz", "width": 335, "height": 158,
      "data": {"name": "f46"},
      "mark": {"type": "line"},
      "encoding": {
        "x": {"field": "a", "type": "quantitative", "scale": {"domain": [-200, 200], "nice": false}, "axis": {"values": [-200, -100, 0, 100, 200], "title": "角度（°）"}},
        "y": {"field": "v", "type": "quantitative", "scale": {"domain": [-15, 15], "nice": false}, "axis": {"values": [-15, -10, -5, 0, 5, 10, 15], "title": "幅度（dB）"}},
        "color": {"field": "s", "type": "nominal", "scale": {"domain": ["H面", "E面"], "range": ["#5B9BD5", "#ED7D31"]}, "legend": {"title": null, "legendX": 93, "legendY": 216}}
      }
    },
    {
      "title": "F=5GHz", "width": 335, "height": 158,
      "data": {"name": "f5"},
      "mark": {"type": "line"},
      "encoding": {
        "x": {"field": "a", "type": "quantitative", "scale": {"domain": [-200, 200], "nice": false}, "axis": {"values": [-200, -100, 0, 100, 200], "title": "角度（°）"}},
        "y": {"field": "v", "type": "quantitative", "scale": {"domain": [-20, 15], "nice": false}, "axis": {"values": [-20, -15, -10, -5, 0, 5, 10, 15], "title": "幅度（dB）"}},
        "color": {"field": "s", "type": "nominal", "scale": {"domain": ["H面", "E面"], "range": ["#5B9BD5", "#ED7D31"]}, "legend": {"title": null, "legendX": 103, "legendY": 216}}
      }
    },
    {
      "title": "F=6GHz", "width": 335, "height": 158,
      "data": {"name": "f6"},
      "mark": {"type": "line"},
      "encoding": {
        "x": {"field": "a", "type": "quantitative", "scale": {"domain": [-200, 200], "nice": false}, "axis": {"values": [-200, -100, 0, 100, 200], "title": "角度（°）"}},
        "y": {"field": "v", "type": "quantitative", "scale": {"domain": [-35, 15], "nice": false}, "axis": {"values": [-35, -30, -25, -20, -15, -10, -5, 0, 5, 10, 15], "title": "幅度（dB）"}},
        "color": {"field": "s", "type": "nominal", "scale": {"domain": ["H面", "E面"], "range": ["#5B9BD5", "#ED7D31"]}, "legend": {"title": null, "legendX": 109, "legendY": 217}}
      }
    },
    {
      "title": "F=7GHz", "width": 335, "height": 158,
      "data": {"name": "f7"},
      "mark": {"type": "line"},
      "encoding": {
        "x": {"field": "a", "type": "quantitative", "scale": {"domain": [-200, 200], "nice": false}, "axis": {"values": [-200, -100, 0, 100, 200], "title": "角度（°）"}},
        "y": {"field": "v", "type": "quantitative", "scale": {"domain": [-40, 20], "nice": false}, "axis": {"values": [-40, -30, -20, -10, 0, 10, 20], "title": "幅度（dB）"}},
        "color": {"field": "s", "type": "nominal", "scale": {"domain": ["H面", "E面"], "range": ["#5B9BD5", "#ED7D31"]}, "legend": {"title": null, "legendX": 103, "legendY": 216}}
      }
    },
    {
      "title": "F=8GHz", "width": 335, "height": 158,
      "data": {"name": "f8"},
      "mark": {"type": "line"},
      "encoding": {
        "x": {"field": "a", "type": "quantitative", "scale": {"domain": [-200, 200], "nice": false}, "axis": {"values": [-200, -100, 0, 100, 200], "title": "角度（°）"}},
        "y": {"field": "v", "type": "quantitative", "scale": {"domain": [-40, 20], "nice": false}, "axis": {"values": [-40, -30, -20, -10, 0, 10, 20], "title": "幅度（dB）"}},
        "color": {"field": "s", "type": "nominal", "scale": {"domain": ["H面", "E面"], "range": ["#5B9BD5", "#ED7D31"]}, "legend": {"title": null, "legendX": 109, "legendY": 217}}
      }
    }
  ]
}
